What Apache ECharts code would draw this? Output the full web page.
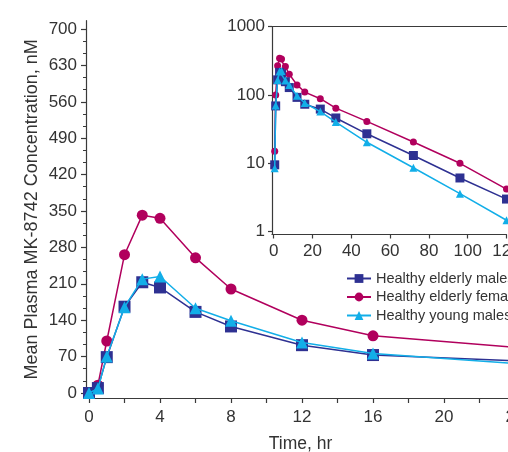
<!DOCTYPE html>
<html>
<head>
<meta charset="utf-8">
<script src="https://cdn.jsdelivr.net/npm/echarts@6/dist/echarts.min.js"></script>
<style>html,body{margin:0;padding:0;background:#fff}#c{width:508px;height:452px}</style>
</head>
<body>
<div id="c"></div>
<script>
// ---- data ----
var times = [0, 0.5, 1, 2, 3, 4, 6, 8, 12, 16, 24, 32, 48, 72, 96, 120];
var elderlyMales   = [0, 9.5, 69, 166, 213, 203, 156, 128, 92, 73, 62, 46, 27, 13, 6.1, 3.0];
var elderlyFemales = [0, 15, 100, 266, 342, 336, 260, 200, 140, 110, 88, 64, 41, 20.5, 10, 4.2];
var youngMales     = [0, 8.5, 70, 165, 219, 224, 163, 139, 97, 76, 57, 40, 20.3, 8.6, 3.6, 1.47];
var seriesNames = ['Healthy elderly males', 'Healthy elderly females', 'Healthy young males'];
var mainYTicks = [0, 70, 140, 210, 280, 350, 420, 490, 560, 630, 700];
var mainXTicks = [0, 2, 4, 6, 8, 10, 12, 14, 16, 18, 20, 22, 24];
var mainXLabels = [0, 4, 8, 12, 16, 20, 24];
var insetXTicks = [0, 20, 40, 60, 80, 100, 120];
var insetYTicks = [1, 10, 100, 1000];

function pairs(vals, positiveOnly) {
  var out = [];
  for (var i = 0; i < times.length; i++) {
    if (positiveOnly && !(vals[i] > 0)) continue;
    out.push([times[i], vals[i]]);
  }
  return out;
}
var minorY = [];
for (var k = 0; k < mainYTicks.length - 1; k++) {
  var a = mainYTicks[k], b = mainYTicks[k + 1];
  minorY.push(a + (b - a) / 3, a + 2 * (b - a) / 3);
}

var FONT = 'Liberation Sans, Arial, sans-serif';
var TXT = '#333333';
var AX = '#3a3a3a';
var colors = ['#2e3192', '#b1005d', '#12aee8'];
var symbols = ['rect', 'circle', 'triangle'];
var mainSizes = [12, 11, 12];
var insetSizes = [9, 7, 8];
var allVals = [elderlyMales, elderlyFemales, youngMales];

var series = [];
for (var s = 0; s < 3; s++) {
  series.push({
    name: seriesNames[s], type: 'line', xAxisIndex: 0, yAxisIndex: 0,
    data: pairs(allVals[s], false), symbol: symbols[s], symbolSize: mainSizes[s],
    showAllSymbol: true, clip: true,
    itemStyle: {color: colors[s]}, lineStyle: {color: colors[s], width: 1.5},
    z: s === 2 ? 3 : (s === 0 ? 2 : 1)
  });
}
for (var s2 = 0; s2 < 3; s2++) {
  series.push({
    name: seriesNames[s2], type: 'line', xAxisIndex: 2, yAxisIndex: 2,
    data: pairs(allVals[s2], true), symbol: symbols[s2], symbolSize: insetSizes[s2],
    showAllSymbol: true, clip: true,
    itemStyle: {color: colors[s2]}, lineStyle: {color: colors[s2], width: 1.5},
    z: s2 === 2 ? 3 : (s2 === 0 ? 2 : 1)
  });
}

var chart = echarts.init(document.getElementById('c'), null, {renderer: 'canvas'});
chart.setOption({
  backgroundColor: '#ffffff',
  animation: false,
  textStyle: {fontFamily: FONT},
  legend: {
    data: seriesNames,
    orient: 'vertical', left: 341, top: 270, padding: [0, 0, 0, 5],
    itemWidth: 24, itemHeight: 11, itemGap: 1.5,
    textStyle: {fontSize: 14.5, color: TXT, fontFamily: FONT, lineHeight: 17},
    selectedMode: false
  },
  grid: [
    {left: 86, right: -7, top: 20.7, bottom: 54, containLabel: false, outerBoundsMode: 'none'},
    {left: 272, right: 1.5, top: 26.5, bottom: 217.5, containLabel: false, outerBoundsMode: 'none'}
  ],
  xAxis: [
    {
      gridIndex: 0, type: 'value', min: -0.17, max: 24, position: 'bottom',
      name: 'Time, hr', nameLocation: 'middle', nameGap: 37,
      nameTextStyle: {fontSize: 17.5, color: TXT, fontFamily: FONT},
      axisLine: {onZero: false, lineStyle: {color: AX, width: 1.2}},
      axisTick: {show: true, length: 5, customValues: mainXTicks, lineStyle: {color: AX, width: 1.2}},
      axisLabel: {customValues: mainXLabels, fontSize: 17, color: TXT, margin: 11, fontFamily: FONT},
      splitLine: {show: false}
    },
    {
      gridIndex: 1, type: 'value', min: -0.9, max: 120, position: 'top',
      axisLine: {onZero: false, lineStyle: {color: AX, width: 1.2}},
      axisTick: {show: false}, axisLabel: {show: false}, splitLine: {show: false}
    },
    {
      gridIndex: 1, type: 'value', min: -0.9, max: 120, position: 'bottom',
      axisLine: {onZero: false, lineStyle: {color: AX, width: 1.2}},
      axisTick: {show: true, length: 4, customValues: insetXTicks, lineStyle: {color: AX, width: 1.2}},
      axisLabel: {customValues: insetXTicks, fontSize: 17, color: TXT, margin: 8, fontFamily: FONT},
      splitLine: {show: false}
    }
  ],
  yAxis: [
    {
      gridIndex: 0, type: 'value', min: -9.6, max: 716, position: 'left',
      name: 'Mean Plasma MK-8742 Concentration, nM', nameLocation: 'middle', nameGap: 45,
      nameMoveOverlap: false,
      nameTextStyle: {fontSize: 18, color: TXT, fontFamily: FONT},
      axisLine: {onZero: false, lineStyle: {color: AX, width: 1.2}},
      axisTick: {show: true, length: 5, customValues: mainYTicks, lineStyle: {color: AX, width: 1.2}},
      axisLabel: {customValues: mainYTicks, fontSize: 17, color: TXT, margin: 9, fontFamily: FONT},
      splitLine: {show: false}
    },
    {
      gridIndex: 0, type: 'value', min: -9.6, max: 716, position: 'left',
      axisLine: {show: false, onZero: false},
      axisTick: {show: true, length: 3, customValues: minorY, lineStyle: {color: AX, width: 1}},
      axisLabel: {show: false}, splitLine: {show: false}
    },
    {
      gridIndex: 1, type: 'log', logBase: 10, min: 0.91, max: 1000, position: 'left',
      axisLine: {onZero: false, lineStyle: {color: AX, width: 1.2}},
      axisTick: {show: true, length: 4, customValues: insetYTicks, lineStyle: {color: AX, width: 1.2}},
      axisLabel: {customValues: insetYTicks, fontSize: 17, color: TXT, margin: 7, fontFamily: FONT,
                  formatter: function (v) { return String(Math.round(v)); }},
      splitLine: {show: false}, minorTick: {show: false}
    }
  ],
  series: series
});
</script>
</body>
</html>
